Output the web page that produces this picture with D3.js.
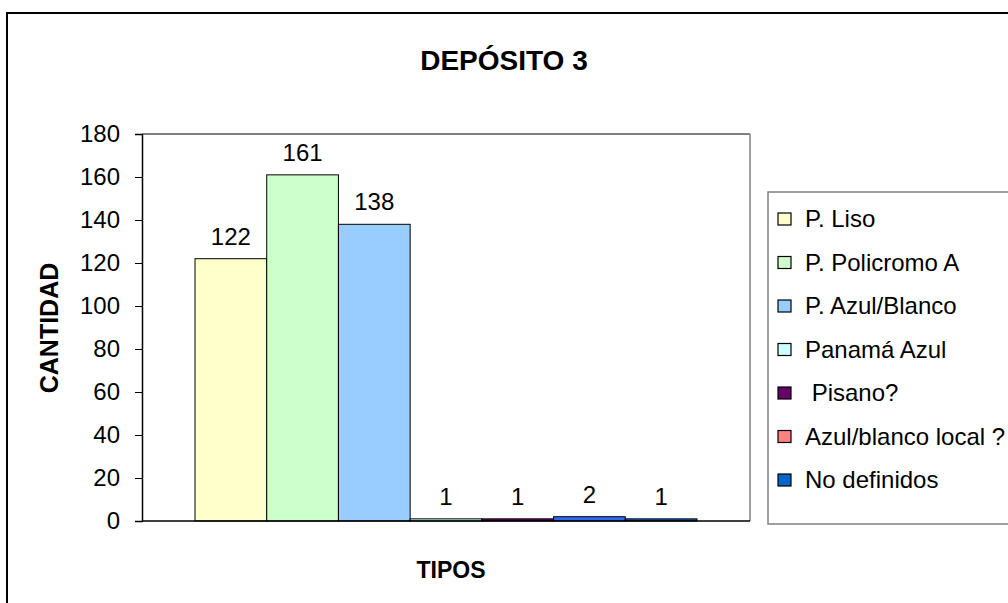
<!DOCTYPE html>
<html lang="es">
<head>
    <meta charset="UTF-8">
    <title>Depósito 3</title>
    <script src="https://d3js.org/d3.v7.min.js"></script>
    <style>
        html, body {
            margin: 0;
            background: white;
            font-family: "Liberation Sans", Arial, sans-serif;
        }
    </style>
</head>
<body>
    <div id="vis"></div>
    <script>

        // data
        var series = ["P. Liso", "P. Policromo A", "P. Azul/Blanco", "Panamá Azul", " Pisano?", "Azul/blanco local ?", "No definidos"]
        var values = [122, 161, 138, 1, 1, 2, 1]
        var colours = ["#FFFFCC", "#CCFFCC", "#99CCFF", "#CCFFFF", "#660066", "#FF8080", "#0066CC"]
        var barColours = ["#FFFFCC", "#CCFFCC", "#99CCFF", "#CCFFFF", "#660066", "#3366FF", "#0066CC"]
        var yTicks = [0, 20, 40, 60, 80, 100, 120, 140, 160, 180]
        var category = ["TIPOS"]

        var width = 1008
        var height = 603

        var plot = {left: 142, right: 750, top: 134, bottom: 521}

        var svg = d3.select('#vis')
                    .append('svg')
                        .attr('width', width)
                        .attr('height', height)

        // outer frame
        svg.append('rect')
            .attr('x', 7)
            .attr('y', 13)
            .attr('width', 1100)
            .attr('height', 700)
            .attr('fill', 'white')
            .attr('stroke', 'black')
            .attr('stroke-width', 2)

        svg.append('text')
            .attr('x', 504)
            .attr('y', 70)
            .attr('text-anchor', 'middle')
            .attr('font-size', '28px')
            .attr('font-weight', 'bold')
            .text('DEPÓSITO 3')

        var x0 = d3.scaleBand()
                    .domain(category)
                    .range([plot.left, plot.right])
                    .paddingInner(0)
                    .paddingOuter(0.1056)

        var x1 = d3.scaleBand()
                    .domain(series)
                    .range([0, x0.bandwidth()])

        var y = d3.scaleLinear()
                    .domain([0, 180])
                    .range([plot.bottom, plot.top])

        // plot area border (top black, right grey)
        svg.append('line')
            .attr('x1', plot.left).attr('x2', plot.right)
            .attr('y1', plot.top).attr('y2', plot.top)
            .attr('stroke', 'black')
        svg.append('line')
            .attr('x1', plot.right).attr('x2', plot.right)
            .attr('y1', plot.top).attr('y2', plot.bottom)
            .attr('stroke', '#808080')
            .attr('stroke-width', 1.5)

        var g = svg.append('g')
                    .attr('transform', 'translate(' + x0('TIPOS') + ',0)')

        g.selectAll('.bar')
            .data(values)
            .enter()
            .append('rect')
            .attr('class', 'bar')
            .attr('x', function(d, i){ return x1(series[i]); })
            .attr('y', function(d){ return y(d); })
            .attr('width', x1.bandwidth())
            .attr('height', function(d){ return y(0) - y(d); })
            .attr('fill', function(d, i){ return barColours[i]; })
            .attr('stroke', 'black')
            .attr('stroke-width', 1)

        g.selectAll('.lbl')
            .data(values)
            .enter()
            .append('text')
            .attr('class', 'lbl')
            .attr('x', function(d, i){ return x1(series[i]) + x1.bandwidth() / 2; })
            .attr('y', function(d){ return y(d) - 14; })
            .attr('text-anchor', 'middle')
            .attr('font-size', '24px')
            .text(function(d){ return d; })

        // y axis
        var yAxis = d3.axisLeft(y)
                    .tickValues(yTicks)
                    .tickSize(7)
                    .tickPadding(15)

        var ya = svg.append('g')
            .attr('transform', 'translate(' + plot.left + ',0)')
            .call(yAxis)
        ya.select('.domain').attr('stroke', 'black').attr('stroke-width', 1.5)
        ya.selectAll('text')
            .attr('font-size', '24px')
            .attr('font-family', '"Liberation Sans", Arial, sans-serif')
            .attr('fill', 'black')

        // x axis line
        svg.append('line')
            .attr('x1', plot.left).attr('x2', plot.right)
            .attr('y1', plot.bottom).attr('y2', plot.bottom)
            .attr('stroke', 'black')
            .attr('stroke-width', 1.5)

        svg.append('text')
            .attr('transform', 'translate(58,328)rotate(-90)')
            .attr('text-anchor', 'middle')
            .attr('font-size', '25px')
            .attr('font-weight', 'bold')
            .text('CANTIDAD')

        svg.append('text')
            .attr('x', 451)
            .attr('y', 578)
            .attr('text-anchor', 'middle')
            .attr('font-size', '23px')
            .attr('font-weight', 'bold')
            .text('TIPOS')

        // legend
        svg.append('rect')
            .attr('x', 768)
            .attr('y', 192)
            .attr('width', 300)
            .attr('height', 332)
            .attr('fill', 'white')
            .attr('stroke', '#808080')
            .attr('stroke-width', 1.5)

        var legend = svg.selectAll('.legend')
            .data(series)
            .enter()
            .append('g')
            .attr('class', 'legend')
            .attr('transform', function(d, i){ return 'translate(778,' + (219 + i * 43.5) + ')'; })

        legend.append('rect')
            .attr('x', 0)
            .attr('y', -6)
            .attr('width', 13)
            .attr('height', 12)
            .attr('fill', function(d, i){ return colours[i]; })
            .attr('stroke', 'black')
            .attr('stroke-width', 1.2)

        legend.append('text')
            .attr('x', 27)
            .attr('y', 8)
            .attr('font-size', '24px')
            .style('white-space', 'pre')
            .text(function(d){ return d; })

    </script>
</body>
</html>
